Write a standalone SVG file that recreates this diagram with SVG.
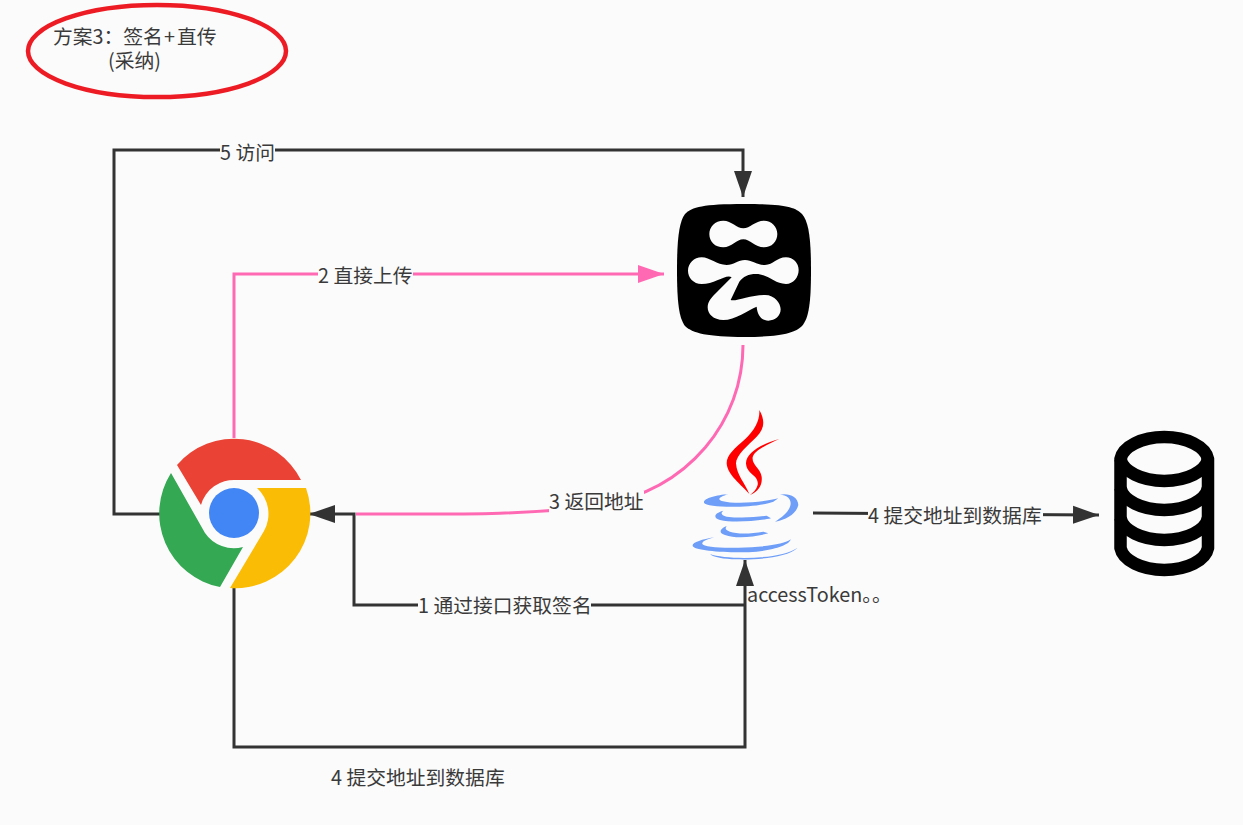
<svg xmlns="http://www.w3.org/2000/svg" width="1243" height="825" viewBox="0 0 1243 825">
<style>
text{font-family:"Noto Sans CJK SC","Liberation Sans",sans-serif;font-size:19.8px;fill:#3a3a3a}
.c{fill:none;stroke-width:3;stroke:#333}
.p{stroke:#ff69b4}
.bg{fill:#fbfbfb}
.j{fill:#6f9ef8}
.r{fill:#f00}
</style>
<defs>
<marker id="a" markerUnits="userSpaceOnUse" markerWidth="28" markerHeight="20" refX="26" refY="10" orient="auto"><path d="M0 1L26 10L0 19z" fill="#333"/></marker>
<marker id="b" markerUnits="userSpaceOnUse" markerWidth="28" markerHeight="20" refX="26" refY="10" orient="auto"><path d="M0 1L26 10L0 19z" fill="#ff69b4"/></marker>
</defs>
<rect width="1243" height="825" class="bg"/>
<g id="connectors">
<path class="c" d="M160 514H114V150H743V197" marker-end="url(#a)"/>
<path class="c p" d="M234 438V274H664" marker-end="url(#b)"/>
<path class="c p" d="M743 345C743 420 690 490 600 505C530 516 440 514 356 514"/>
<path class="c" d="M745 605H354V514H309" marker-end="url(#a)"/>
<path class="c" d="M234 588V747H745V560" marker-end="url(#a)"/>
<path class="c" d="M813 513L1099 515" marker-end="url(#a)"/>
</g>
<g id="label-5"><rect class="bg" x="220" y="140" width="55" height="24"/><text x="220" y="160">5 访问</text></g>
<g id="label-2"><rect class="bg" x="318" y="264" width="95" height="24"/><text x="318" y="283">2 直接上传</text></g>
<g id="label-3"><rect class="bg" x="549" y="491" width="95" height="24"/><text x="549" y="509">3 返回地址</text></g>
<g id="label-1"><rect class="bg" x="418" y="595" width="173" height="24"/><text x="418" y="613">1 通过接口获取签名</text></g>
<g id="label-4a"><rect class="bg" x="868" y="504" width="175" height="24"/><text x="868" y="523">4 提交地址到数据库</text></g>
<g id="label-4b"><text x="331" y="785">4 提交地址到数据库</text></g>
<g id="title">
<ellipse cx="157" cy="51" rx="129" ry="46" fill="none" stroke="#ed1c24" stroke-width="4.5"/>
<text x="53" y="44">方案3：签名<tspan x="164">+</tspan><tspan x="177">直传</tspan></text>
<text x="108" y="68">(采纳)</text>
</g>
<g id="cloud">
<path fill="#000" d="M744 204C785 204 795 207 802 214C809 222 811 240 811 270C811 302 809 318 802 326C795 333 780 337 744 337C708 337 692 333 685 326C679 318 677 302 677 270C677 240 679 222 685 214C692 207 703 204 744 204z"/>
<g transform="translate(660 190) scale(.3333)">
<path class="bg" d="M190 92C215 92 230 115 250 115C270 115 285 92 312 92C335 92 352 110 352 132C352 155 335 172 312 172C285 172 270 148 250 148C230 148 215 172 190 172C165 172 148 155 148 132C148 110 165 92 190 92z"/>
<path class="bg" d="M125 202C150 202 170 225 200 225C220 225 235 210 255 210C275 210 290 225 315 225C340 225 350 202 378 202C400 202 416 220 416 240C416 262 400 282 378 282C345 282 330 258 295 252C270 250 250 258 238 275L212 330C225 336 270 315 315 315C345 315 362 340 362 358C362 378 345 392 325 392C305 392 292 375 290 350C265 360 225 390 190 390C160 390 143 372 143 352C143 335 155 322 165 312L215 262C200 250 165 282 125 282C100 282 84 262 84 242C84 220 102 202 125 202z"/>
</g>
</g>
<g id="chrome">
<circle cx="234" cy="513" r="25" fill="#4285f4"/>
<path fill="#ea4335" d="M177 465A75 75 0 0 1 301 480H236A34 34 0 0 0 201 505z"/>
<path fill="#fbbc05" d="M306 488A75 75 0 0 1 230 588L264 531A35 35 0 0 0 257 488z"/>
<path fill="#34a853" d="M171 473A75 75 0 0 0 220 587L243 547A35 35 0 0 1 205 533z"/>
</g>
<g id="java" transform="translate(670 400) scale(.3333)">
<path class="r" d="M268 30C270 60 255 90 225 118C195 145 170 165 170 190C172 225 215 255 238 282C225 250 200 225 198 190C198 165 235 135 260 110C285 85 285 60 268 30z"/>
<path class="r" d="M328 117C285 128 228 155 228 190C230 225 268 225 263 255C260 268 250 278 240 285C265 275 278 255 275 230C272 205 245 195 248 172C252 150 300 130 328 117z"/>
<path class="j" d="M175 283C140 285 100 295 102 308C110 325 260 325 310 305L325 295C290 305 200 315 155 303C140 298 150 290 175 283z"/>
<path class="j" d="M330 284C355 278 385 290 385 315C380 340 350 360 315 365C340 350 362 330 362 310C362 295 350 285 330 284z"/>
<path class="j" d="M160 332C130 340 130 355 150 360C190 370 270 362 303 355L290 347C260 352 210 355 170 350C155 347 150 340 160 332z"/>
<path class="j" d="M170 378C145 388 148 400 165 405C200 418 260 410 295 400L280 395C240 402 200 402 180 395C165 390 165 385 170 378z"/>
<path class="j" d="M133 412C95 418 65 428 68 438C75 455 200 460 260 455C310 450 360 435 362 418C345 432 280 442 205 443C150 445 100 440 97 432C95 425 110 418 133 412z"/>
<path class="j" d="M120 462C170 480 330 480 383 443C350 475 250 480 200 478C160 477 130 472 120 462z"/>
</g>
<g id="token"><text x="747" y="602">accessToken。。</text></g>
<g id="database" fill="none" stroke="#000" stroke-width="12.5">
<path d="M1120.500 459A44 24.500 0 0 1 1208 459V548A44 24.500 0 0 1 1120.500 548z"/>
<path d="M1120.500 459A44 24.500 0 0 0 1208 459M1120.500 488A44 24.500 0 0 0 1208 488M1120.500 518A44 24.500 0 0 0 1208 518"/>
</g>
</svg>
